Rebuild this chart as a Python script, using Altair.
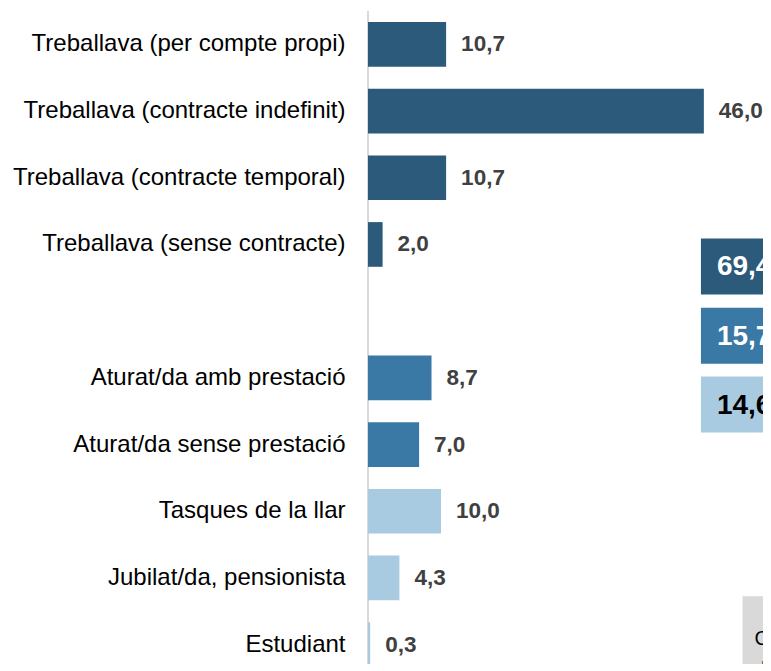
import altair as alt
import pandas as pd

FONT = "Liberation Sans"

# ---- data ----
categories = [
    "Treballava (per compte propi)",
    "Treballava (contracte indefinit)",
    "Treballava (contracte temporal)",
    "Treballava (sense contracte)",
    "Aturat/da amb prestació",
    "Aturat/da sense prestació",
    "Tasques de la llar",
    "Jubilat/da, pensionista",
    "Estudiant",
]
values = [10.7, 46.0, 10.7, 2.0, 8.7, 7.0, 10.0, 4.3, 0.3]
groups = ["ocupat"] * 4 + ["aturat"] * 2 + ["inactiu"] * 3

group_names = ["ocupat", "aturat", "inactiu"]
group_colors = ["#2C5A7B", "#3A78A5", "#A9CBE2"]
group_text_colors = ["white", "white", "black"]
totals = [69.4, 15.7, 14.6]
total_rows = ["Treballava (sense contracte)", " ", "Aturat/da amb prestació"]

note_lines = ["Condició", "d'activitat"]

GAP = " "
order = categories[:4] + [GAP] + categories[4:]

df = pd.DataFrame({"cat": categories, "val": values, "grp": groups})
df["label"] = df["val"].map(lambda v: f"{v:.1f}".replace(".", ","))

X_MAX = 54.1
BOX_START = 45.6
NOTE_START = 51.3

Y_AXIS = alt.Axis(
    title=None, ticks=False, labelFontSize=24, labelColor="black",
    labelFont=FONT, labelPadding=23, labelLimit=600,
    domain=False, grid=False,
)
Y_SCALE = alt.Scale(domain=order, range=[0, 667], paddingInner=0.33, paddingOuter=0.165)


def ycat(field="cat"):
    return alt.Y(f"{field}:N", sort=order, scale=Y_SCALE, axis=Y_AXIS, title=None)


xscale = alt.Scale(domain=[0, X_MAX], nice=False, zero=True)

base = alt.Chart(df)
bars = base.mark_bar(clip=True).encode(
    x=alt.X("val:Q", scale=xscale, axis=None),
    y=ycat(),
    color=alt.Color("grp:N", scale=alt.Scale(domain=group_names, range=group_colors), legend=None),
)
labels = base.mark_text(
    align="left", baseline="middle", dx=15, fontSize=22.5, fontWeight="bold",
    color="#404040", font=FONT, clip=True,
).encode(
    x=alt.X("val:Q", scale=xscale, axis=None),
    y=ycat(),
    text="label:N",
)
axis_line = base.mark_rule(color="#D9D9D9", strokeWidth=1.5).encode(
    x=alt.X("zero:Q", scale=xscale, axis=None)
).transform_calculate(zero="0")

layers = [axis_line, bars, labels]

box_offsets = [22, 24.5, 26.7]
for i in range(3):
    bdf = pd.DataFrame({
        "cat": [total_rows[i]],
        "start": [BOX_START],
        "end": [X_MAX],
        "label": [f"{totals[i]:.1f}".replace(".", ",")],
    })
    bchart = alt.Chart(bdf)
    layers.append(
        bchart.mark_bar(size=56, yOffset=box_offsets[i], color=group_colors[i], clip=True).encode(
            x=alt.X("start:Q", scale=xscale, axis=None), x2="end:Q", y=ycat()
        )
    )
    layers.append(
        bchart.mark_text(
            align="left", baseline="middle", dx=16, yOffset=box_offsets[i] + 1,
            fontSize=28, fontWeight="bold", color=group_text_colors[i], font=FONT, clip=True,
        ).encode(x=alt.X("start:Q", scale=xscale, axis=None), y=ycat(), text="label:N")
    )

ndf = pd.DataFrame({"cat": ["Estudiant"], "start": [NOTE_START], "end": [X_MAX],
                    "label": ["\n".join(note_lines)]})
nchart = alt.Chart(ndf)
layers.append(
    nchart.mark_bar(size=94, yOffset=-1.5, color="#D9D9D9", clip=True).encode(
        x=alt.X("start:Q", scale=xscale, axis=None), x2="end:Q", y=ycat()
    )
)
layers.append(
    nchart.mark_text(
        align="left", baseline="middle", dx=12, dy=-6, fontSize=20, lineHeight=31,
        lineBreak="\n", color="black", font=FONT, clip=True,
    ).encode(x=alt.X("start:Q", scale=xscale, axis=None), y=ycat(), text="label:N")
)

chart = alt.layer(*layers).properties(
    width=395, height=653,
    padding={"left": 4, "top": 2, "right": 0, "bottom": 0},
).configure_view(stroke=None)

chart.save("out.html", embed_options={"renderer": "svg", "actions": False})
